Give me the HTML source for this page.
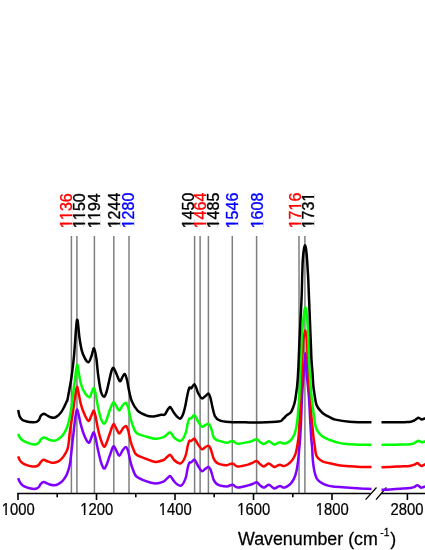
<!DOCTYPE html>
<html lang="en"><head><meta charset="utf-8"><title>Spectra</title>
<style>html,body{margin:0;padding:0;background:#fff}body{width:425px;height:550px;overflow:hidden}svg{display:block;will-change:transform}text{font-family:"Liberation Sans",sans-serif}</style></head><body>
<svg width="425" height="550" viewBox="0 0 425 550">
<rect width="425" height="550" fill="#fff"/>
<g stroke="#7f7f7f" stroke-width="1.5">
<line x1="71.4" y1="236" x2="71.4" y2="493" />
<line x1="76.9" y1="236" x2="76.9" y2="493" />
<line x1="94.4" y1="236" x2="94.4" y2="493" />
<line x1="113.8" y1="236" x2="113.8" y2="493" />
<line x1="129.0" y1="236" x2="129.0" y2="493" />
<line x1="194.6" y1="236" x2="194.6" y2="493" />
<line x1="200.1" y1="236" x2="200.1" y2="493" />
<line x1="208.4" y1="236" x2="208.4" y2="493" />
<line x1="232.3" y1="236" x2="232.3" y2="493" />
<line x1="256.6" y1="236" x2="256.6" y2="493" />
<line x1="299.0" y1="236" x2="299.0" y2="493" />
<line x1="304.9" y1="236" x2="304.9" y2="493" />
</g>
<g font-size="16.0" stroke-width="0.35">
<g transform="translate(71.7 228.3) rotate(-90)"><text x="0.00 8.35 17.25 26.15" fill="#ff0000" stroke="#ff0000">1136</text><g fill="#fff"><rect x="0.14" y="-1.97" width="3.65" height="2.67"/><rect x="5.66" y="-1.97" width="3.53" height="2.67"/><rect x="8.49" y="-1.97" width="3.65" height="2.67"/><rect x="14.01" y="-1.97" width="3.53" height="2.67"/></g></g>
<g transform="translate(85.2 228.3) rotate(-90)"><text x="0.00 8.35 17.25 26.15" fill="#000" stroke="#000">1150</text><g fill="#fff"><rect x="0.14" y="-1.97" width="3.65" height="2.67"/><rect x="5.66" y="-1.97" width="3.53" height="2.67"/><rect x="8.49" y="-1.97" width="3.65" height="2.67"/><rect x="14.01" y="-1.97" width="3.53" height="2.67"/></g></g>
<g transform="translate(99.8 228.3) rotate(-90)"><text x="0.00 8.35 17.25 26.15" fill="#000" stroke="#000">1194</text><g fill="#fff"><rect x="0.14" y="-1.97" width="3.65" height="2.67"/><rect x="5.66" y="-1.97" width="3.53" height="2.67"/><rect x="8.49" y="-1.97" width="3.65" height="2.67"/><rect x="14.01" y="-1.97" width="3.53" height="2.67"/></g></g>
<g transform="translate(119.6 228.3) rotate(-90)"><text x="0.00 8.90 17.80 26.70" fill="#000" stroke="#000">1244</text><g fill="#fff"><rect x="0.14" y="-1.97" width="3.65" height="2.67"/><rect x="5.66" y="-1.97" width="3.53" height="2.67"/></g></g>
<g transform="translate(133.7 228.3) rotate(-90)"><text x="0.00 8.90 17.80 26.70" fill="#0000ff" stroke="#0000ff">1280</text><g fill="#fff"><rect x="0.14" y="-1.97" width="3.65" height="2.67"/><rect x="5.66" y="-1.97" width="3.53" height="2.67"/></g></g>
<g transform="translate(193.5 228.3) rotate(-90)"><text x="0.00 8.90 17.80 26.70" fill="#000" stroke="#000">1450</text><g fill="#fff"><rect x="0.14" y="-1.97" width="3.65" height="2.67"/><rect x="5.66" y="-1.97" width="3.53" height="2.67"/></g></g>
<g transform="translate(205.7 228.3) rotate(-90)"><text x="0.00 8.90 17.80 26.70" fill="#ff0000" stroke="#ff0000">1464</text><g fill="#fff"><rect x="0.14" y="-1.97" width="3.65" height="2.67"/><rect x="5.66" y="-1.97" width="3.53" height="2.67"/></g></g>
<g transform="translate(219.3 228.3) rotate(-90)"><text x="0.00 8.90 17.80 26.70" fill="#000" stroke="#000">1485</text><g fill="#fff"><rect x="0.14" y="-1.97" width="3.65" height="2.67"/><rect x="5.66" y="-1.97" width="3.53" height="2.67"/></g></g>
<g transform="translate(237.7 228.3) rotate(-90)"><text x="0.00 8.90 17.80 26.70" fill="#0000ff" stroke="#0000ff">1546</text><g fill="#fff"><rect x="0.14" y="-1.97" width="3.65" height="2.67"/><rect x="5.66" y="-1.97" width="3.53" height="2.67"/></g></g>
<g transform="translate(262.5 228.3) rotate(-90)"><text x="0.00 8.90 17.80 26.70" fill="#0000ff" stroke="#0000ff">1608</text><g fill="#fff"><rect x="0.14" y="-1.97" width="3.65" height="2.67"/><rect x="5.66" y="-1.97" width="3.53" height="2.67"/></g></g>
<g transform="translate(300.6 228.3) rotate(-90)"><text x="0.00 8.90 17.80 26.70" fill="#ff0000" stroke="#ff0000">1716</text><g fill="#fff"><rect x="0.14" y="-1.97" width="3.65" height="2.67"/><rect x="5.66" y="-1.97" width="3.53" height="2.67"/><rect x="17.94" y="-1.97" width="3.65" height="2.67"/><rect x="23.46" y="-1.97" width="3.53" height="2.67"/></g></g>
<g transform="translate(313.7 228.3) rotate(-90)"><text x="0.00 8.90 17.80 26.70" fill="#000" stroke="#000">1731</text><g fill="#fff"><rect x="0.14" y="-1.97" width="3.65" height="2.67"/><rect x="5.66" y="-1.97" width="3.53" height="2.67"/><rect x="26.84" y="-1.97" width="3.65" height="2.67"/><rect x="32.36" y="-1.97" width="3.53" height="2.67"/></g></g>
</g>
<g stroke="#000" stroke-width="1.6" fill="none">
<path d="M17.2 493.5H370.5M381 493.5H425"/>
<path d="M18.0 493.5V500"/>
<path d="M96.5 493.5V500"/>
<path d="M175.0 493.5V500"/>
<path d="M253.5 493.5V500"/>
<path d="M332.0 493.5V500"/>
<path d="M57.2 493.5V497.3"/>
<path d="M135.8 493.5V497.3"/>
<path d="M214.2 493.5V497.3"/>
<path d="M292.8 493.5V497.3"/>
<path d="M407.4 493.5V500"/>
<path d="M365.6 499.6L376.5 487.5M376 499.6L386.4 487.5" stroke-width="1.3"/>
</g>
<g fill="none" stroke-width="2.5" stroke-linejoin="round" stroke-linecap="butt">
<path stroke="#8000ff" d="M18.2 478.2C18.4 478.8 18.9 480.5 19.6 481.7C20.3 482.9 21.3 484.4 22.5 485.3C23.7 486.2 25.1 486.8 26.7 487.4C28.3 488.0 30.8 488.6 32.4 488.8C34.0 489.0 35.5 488.9 36.6 488.5C37.7 488.1 38.4 487.5 39.1 486.7C39.8 485.9 40.0 484.6 40.8 483.8C41.6 483.0 42.6 482.1 43.7 482.0C44.8 481.9 46.0 482.9 47.2 483.4C48.4 483.9 49.5 484.5 50.7 484.8C51.9 485.1 53.1 485.4 54.3 485.3C55.5 485.2 56.6 484.9 57.8 484.3C59.0 483.8 60.2 482.9 61.3 482.0C62.3 481.1 63.1 480.2 64.1 478.9C65.0 477.6 66.0 476.4 67.0 474.0C68.0 471.6 69.1 468.2 69.8 464.8C70.5 461.4 70.8 456.8 71.2 453.5C71.6 450.2 71.9 447.6 72.2 445.0C72.5 442.4 72.5 441.8 73.0 437.6C73.5 433.4 74.4 424.6 75.0 420.0C75.6 415.4 76.2 410.8 76.8 409.8C77.4 408.8 77.9 411.8 78.5 414.0C79.1 416.2 79.6 419.8 80.5 423.2C81.4 426.6 82.6 431.2 83.9 434.5C85.2 437.8 87.4 442.1 88.6 442.7C89.8 443.3 90.4 439.7 91.2 438.0C92.0 436.3 92.9 432.4 93.6 432.3C94.3 432.2 94.8 434.6 95.5 437.5C96.2 440.4 97.1 445.9 98.0 450.0C98.9 454.1 99.9 458.7 100.9 461.8C101.9 464.9 103.0 468.0 103.9 468.5C104.8 469.0 105.5 467.2 106.5 465.0C107.5 462.8 108.8 458.1 110.0 455.0C111.2 451.9 112.3 447.1 113.4 446.4C114.5 445.7 115.5 449.4 116.5 451.0C117.5 452.6 118.3 455.9 119.3 455.8C120.3 455.7 121.4 452.0 122.5 450.5C123.6 449.0 124.9 446.8 125.9 447.0C126.9 447.2 127.5 449.4 128.3 452.0C129.1 454.6 129.8 459.3 130.6 462.4C131.4 465.5 132.3 468.1 133.3 470.5C134.3 472.9 134.4 474.7 136.5 476.5C138.6 478.3 142.8 480.0 145.9 481.2C149.0 482.4 152.4 483.4 155.3 483.5C158.2 483.6 161.6 482.4 163.5 481.6C165.4 480.8 165.9 479.4 167.0 478.5C168.1 477.6 169.1 476.1 169.9 476.0C170.7 475.9 171.3 477.3 172.0 478.2C172.7 479.1 173.2 480.1 174.1 481.2C175.0 482.3 176.4 483.8 177.5 484.6C178.6 485.4 179.6 486.1 180.6 485.8C181.6 485.5 182.6 484.6 183.5 483.0C184.4 481.4 185.4 479.1 186.1 476.5C186.8 473.9 187.2 469.8 187.8 467.5C188.4 465.2 188.8 463.6 189.4 462.7C190.0 461.8 190.5 462.9 191.3 462.3C192.1 461.8 193.5 459.4 194.3 459.4C195.1 459.4 195.6 461.3 196.3 462.5C197.0 463.7 197.5 465.1 198.4 466.5C199.3 467.9 200.7 470.8 201.9 471.2C203.1 471.6 204.4 469.3 205.5 468.6C206.6 467.9 207.7 466.7 208.5 466.9C209.3 467.1 209.9 468.3 210.5 469.6C211.1 470.9 211.6 472.8 212.1 474.5C212.6 476.2 213.0 478.3 213.7 479.9C214.4 481.4 215.5 482.9 216.5 483.8C217.5 484.7 217.9 484.9 219.6 485.4C221.3 485.8 224.6 486.6 226.7 486.5C228.8 486.4 230.9 484.7 232.4 484.7C233.9 484.7 234.5 486.1 235.5 486.6C236.5 487.1 236.5 487.7 238.6 487.5C240.7 487.3 245.6 486.0 248.0 485.4C250.4 484.8 251.5 484.3 253.0 483.8C254.5 483.3 255.6 482.1 256.8 482.3C258.0 482.6 258.9 484.4 260.0 485.3C261.1 486.2 262.5 487.4 263.5 487.6C264.5 487.8 265.1 486.9 266.0 486.4C266.9 485.9 267.9 484.7 268.9 484.8C269.9 484.9 271.1 486.4 272.0 487.0C272.9 487.6 273.7 488.4 274.6 488.4C275.5 488.4 276.6 487.4 277.5 487.0C278.4 486.6 279.2 486.0 280.0 486.0C280.8 486.0 281.3 486.7 282.0 487.0C282.7 487.3 283.3 487.8 284.2 487.6C285.1 487.5 286.4 486.8 287.5 486.1C288.6 485.4 289.8 484.6 290.9 483.4C292.0 482.1 293.1 480.5 294.0 478.6C294.9 476.7 295.6 474.8 296.3 471.8C297.0 468.9 297.6 465.0 298.1 460.9C298.6 456.8 299.0 450.9 299.4 447.0C299.8 443.1 299.9 442.3 300.2 437.6C300.5 432.9 300.9 425.1 301.2 418.8C301.5 412.5 301.6 405.6 301.9 400.0C302.2 394.4 302.5 389.2 302.8 385.0C303.1 380.8 303.4 377.8 303.6 375.0C303.8 372.2 303.9 370.5 304.1 368.0C304.3 365.5 304.4 362.5 304.6 360.0C304.8 357.5 305.1 352.9 305.4 352.9C305.6 352.9 305.9 357.5 306.1 360.0C306.3 362.5 306.4 365.5 306.5 368.0C306.6 370.5 306.6 372.2 306.8 375.0C307.0 377.8 307.4 380.8 307.8 385.0C308.2 389.2 308.7 394.4 309.1 400.0C309.5 405.6 309.8 412.5 310.1 418.8C310.5 425.1 310.9 432.9 311.2 437.6C311.5 442.3 311.8 443.1 312.1 447.0C312.4 450.9 312.5 456.8 312.9 460.9C313.3 465.0 313.9 468.9 314.5 471.8C315.1 474.8 315.9 476.9 316.8 478.6C317.8 480.3 318.7 481.0 320.2 482.0C321.7 483.0 323.5 484.0 325.6 484.8C327.7 485.6 329.3 486.1 332.9 486.6C336.5 487.1 342.6 487.3 347.1 487.6C351.6 487.9 355.9 488.4 360.0 488.6C364.1 488.8 369.6 488.9 371.5 489.0"/>
<path stroke="#8000ff" d="M381.5 489.8C382.9 489.7 386.9 489.6 390.0 489.4C393.1 489.2 396.8 489.0 400.0 488.8C403.2 488.6 407.5 488.3 409.5 488.1C411.5 487.9 411.2 487.8 412.0 487.6C412.8 487.4 413.8 487.1 414.5 486.8C415.2 486.5 415.5 486.1 416.0 485.8C416.5 485.5 416.9 485.1 417.4 485.2C417.9 485.3 418.5 485.9 419.2 486.3C419.9 486.7 420.7 487.6 421.3 487.7C421.9 487.8 422.3 487.4 423.0 487.2C423.7 487.0 425.1 486.5 425.5 486.4"/>
<path stroke="#ff0000" d="M18.2 456.3C18.4 456.9 18.9 458.7 19.6 459.8C20.3 460.9 21.3 462.2 22.5 463.1C23.7 464.0 25.1 464.6 26.7 465.2C28.3 465.8 30.8 466.3 32.4 466.5C34.0 466.7 35.5 466.5 36.6 466.2C37.7 465.9 38.4 465.2 39.1 464.5C39.8 463.8 40.0 462.7 40.8 461.9C41.6 461.1 42.6 459.9 43.7 459.8C44.8 459.7 46.0 460.8 47.2 461.2C48.4 461.6 49.5 462.1 50.7 462.4C51.9 462.6 53.1 462.8 54.3 462.7C55.5 462.6 56.6 462.3 57.8 461.7C59.0 461.1 60.2 460.1 61.3 459.1C62.3 458.1 63.1 457.1 64.1 455.6C65.0 454.2 66.3 452.2 67.0 450.4C67.7 448.6 67.9 448.3 68.4 445.0C68.9 441.7 69.2 436.1 70.0 430.6C70.8 425.1 72.2 417.4 73.0 411.8C73.8 406.2 74.3 401.2 75.0 397.0C75.7 392.8 76.4 387.3 77.0 386.8C77.6 386.3 78.2 391.4 78.8 394.0C79.4 396.6 79.7 399.5 80.5 402.7C81.3 405.9 82.6 410.0 83.9 413.0C85.2 416.0 87.2 420.4 88.4 420.9C89.6 421.4 90.3 417.7 91.2 416.0C92.1 414.3 92.9 410.6 93.6 410.6C94.3 410.6 94.8 412.9 95.5 416.0C96.2 419.1 97.1 425.0 98.0 429.0C98.9 433.0 99.9 437.1 100.9 440.0C101.9 442.9 103.1 446.1 104.0 446.6C104.9 447.1 105.5 445.3 106.5 443.0C107.5 440.7 108.8 436.1 110.0 433.0C111.2 429.9 112.3 424.9 113.4 424.2C114.5 423.5 115.5 427.4 116.5 429.0C117.5 430.6 118.3 433.6 119.3 433.6C120.3 433.6 121.4 430.3 122.5 429.0C123.6 427.7 124.9 425.6 125.9 425.9C126.9 426.2 127.5 428.4 128.3 431.0C129.1 433.6 129.8 438.2 130.6 441.2C131.4 444.2 132.3 446.7 133.3 449.0C134.3 451.3 134.4 453.2 136.5 454.8C138.6 456.4 142.8 457.6 145.9 458.8C149.0 460.0 152.4 461.7 155.3 461.9C158.2 462.1 161.6 460.8 163.5 460.0C165.4 459.2 165.9 457.9 167.0 457.0C168.1 456.1 169.1 454.8 169.9 454.8C170.7 454.8 171.3 456.1 172.0 457.0C172.7 457.9 173.2 459.1 174.1 460.0C175.0 460.9 176.4 462.0 177.5 462.6C178.6 463.2 179.6 463.8 180.6 463.4C181.6 463.0 182.6 462.1 183.5 460.5C184.4 458.9 185.4 456.5 186.1 454.0C186.8 451.5 187.2 447.7 187.8 445.5C188.4 443.3 188.8 441.6 189.4 440.9C190.0 440.1 190.5 441.4 191.3 441.0C192.1 440.6 193.5 438.5 194.3 438.6C195.1 438.7 195.6 440.4 196.3 441.5C197.0 442.6 197.5 443.7 198.4 445.0C199.3 446.3 200.7 448.9 201.9 449.2C203.1 449.5 204.4 447.6 205.5 447.0C206.6 446.4 207.7 445.4 208.5 445.7C209.3 445.9 209.9 447.2 210.5 448.5C211.1 449.8 211.6 451.8 212.1 453.5C212.6 455.2 213.0 457.2 213.7 458.7C214.4 460.2 215.5 461.6 216.5 462.5C217.5 463.4 217.9 463.6 219.6 464.1C221.3 464.6 224.6 465.4 226.7 465.3C228.8 465.2 230.9 463.4 232.4 463.4C233.9 463.4 234.5 465.0 235.5 465.5C236.5 466.0 236.5 466.6 238.6 466.5C240.7 466.4 245.6 465.2 248.0 464.6C250.4 464.0 251.5 463.2 253.0 462.6C254.5 462.0 255.6 460.8 256.8 461.0C258.0 461.2 258.9 463.2 260.0 464.1C261.1 465.0 262.5 466.3 263.5 466.5C264.5 466.7 265.1 465.7 266.0 465.2C266.9 464.7 267.9 463.5 268.9 463.6C269.9 463.7 271.1 465.1 272.0 465.6C272.9 466.2 273.7 466.9 274.6 466.9C275.5 466.9 276.6 466.0 277.5 465.6C278.4 465.2 279.2 464.8 280.0 464.8C280.8 464.8 281.2 465.4 282.0 465.6C282.8 465.8 283.6 466.2 284.7 465.9C285.8 465.6 287.5 464.7 288.8 463.6C290.1 462.6 291.5 461.2 292.6 459.6C293.7 458.0 294.6 456.2 295.4 454.1C296.1 452.0 296.6 449.8 297.1 447.0C297.6 444.2 298.1 440.7 298.5 437.6C298.9 434.5 299.0 431.3 299.2 428.2C299.4 425.1 299.6 423.5 299.9 418.8C300.2 414.1 300.6 405.6 300.8 400.0C301.0 394.4 301.2 389.2 301.3 385.0C301.4 380.8 301.5 379.2 301.6 375.0C301.8 370.8 302.0 364.0 302.2 360.0C302.4 356.0 302.6 354.3 302.8 351.0C303.0 347.7 303.1 342.8 303.4 340.0C303.6 337.2 304.0 335.6 304.3 334.0C304.6 332.4 304.9 330.6 305.2 330.6C305.6 330.6 305.9 332.4 306.2 334.0C306.5 335.6 306.9 337.2 307.1 340.0C307.2 342.8 307.3 347.7 307.4 351.0C307.5 354.3 307.5 356.0 307.7 360.0C307.9 364.0 308.4 370.8 308.6 375.0C308.9 379.2 309.1 380.8 309.4 385.0C309.7 389.2 310.0 394.4 310.4 400.0C310.8 405.6 311.2 414.1 311.6 418.8C312.0 423.5 312.3 425.1 312.6 428.2C312.9 431.3 313.1 434.5 313.5 437.6C313.9 440.7 314.5 444.2 314.9 447.0C315.3 449.8 315.4 452.2 315.9 454.1C316.4 456.0 316.9 456.9 318.1 458.2C319.3 459.4 320.6 460.7 322.9 461.6C325.2 462.5 328.8 463.1 332.0 463.8C335.2 464.5 337.7 465.3 342.4 465.8C347.1 466.3 355.1 466.7 360.0 466.9C364.9 467.1 369.6 467.0 371.5 467.0"/>
<path stroke="#ff0000" d="M381.5 467.3C382.9 467.2 386.9 467.1 390.0 467.0C393.1 466.9 396.8 466.6 400.0 466.4C403.2 466.2 407.5 466.1 409.5 465.9C411.5 465.7 411.2 465.6 412.0 465.4C412.8 465.2 413.8 465.0 414.5 464.7C415.2 464.4 415.5 464.0 416.0 463.7C416.5 463.4 416.9 463.0 417.4 463.1C417.9 463.2 418.5 463.9 419.2 464.4C419.9 464.9 420.7 465.9 421.3 466.0C421.9 466.1 422.3 465.6 423.0 465.3C423.7 465.0 425.1 464.3 425.5 464.1"/>
<path stroke="#00ff00" d="M18.2 433.9C18.4 434.4 18.9 435.9 19.6 437.0C20.3 438.1 21.3 439.4 22.5 440.3C23.7 441.2 25.1 441.8 26.7 442.4C28.3 443.0 30.8 443.9 32.4 444.2C34.0 444.5 35.5 444.4 36.6 444.1C37.7 443.8 38.4 443.2 39.1 442.4C39.8 441.6 40.0 440.3 40.8 439.5C41.6 438.7 42.6 437.5 43.7 437.4C44.8 437.3 46.0 438.3 47.2 438.8C48.4 439.3 49.5 440.0 50.7 440.3C51.9 440.6 53.1 440.8 54.3 440.7C55.5 440.6 56.6 440.2 57.8 439.5C59.0 438.8 60.2 437.8 61.3 436.7C62.3 435.6 63.1 434.7 64.1 433.2C65.0 431.7 66.0 430.2 67.0 427.5C68.0 424.8 69.0 420.8 69.8 416.9C70.6 413.0 71.5 407.0 71.9 404.2C72.3 401.4 72.0 403.5 72.4 400.0C72.8 396.5 73.7 388.8 74.5 383.0C75.3 377.2 76.3 366.7 77.0 365.0C77.7 363.3 78.2 370.1 78.8 373.0C79.4 375.9 79.7 379.2 80.5 382.3C81.3 385.4 82.4 388.9 83.9 391.4C85.4 393.9 88.0 396.9 89.3 397.2C90.6 397.5 90.8 394.5 91.5 393.0C92.2 391.5 92.9 388.0 93.6 388.0C94.3 388.0 94.8 389.8 95.5 393.0C96.2 396.2 97.1 402.7 98.0 407.0C98.9 411.3 99.9 415.8 100.9 418.6C101.9 421.4 103.2 423.6 104.1 423.8C105.0 424.0 105.5 422.4 106.5 420.0C107.5 417.6 108.8 412.4 110.0 409.5C111.2 406.6 112.3 402.9 113.4 402.4C114.5 401.9 115.5 405.1 116.5 406.5C117.5 407.9 118.3 410.8 119.3 410.6C120.3 410.4 121.4 406.8 122.5 405.5C123.6 404.2 124.9 402.4 125.9 402.8C126.9 403.2 127.5 405.3 128.3 408.0C129.1 410.7 129.8 415.6 130.6 418.8C131.4 422.0 132.3 424.6 133.3 427.0C134.3 429.4 134.4 431.3 136.5 432.9C138.6 434.5 142.8 435.5 145.9 436.5C149.0 437.5 152.4 438.7 155.3 438.8C158.2 438.9 161.6 437.9 163.5 437.2C165.4 436.5 165.9 435.3 167.0 434.5C168.1 433.7 169.1 432.2 169.9 432.2C170.7 432.2 171.3 433.6 172.0 434.5C172.7 435.4 173.2 436.7 174.1 437.6C175.0 438.5 176.4 439.4 177.5 440.0C178.6 440.6 179.6 441.2 180.6 440.9C181.6 440.6 182.6 439.6 183.5 438.0C184.4 436.4 185.4 434.0 186.1 431.5C186.8 429.0 187.2 425.2 187.8 423.0C188.4 420.8 188.8 419.3 189.4 418.5C190.0 417.7 190.5 418.9 191.3 418.3C192.1 417.7 193.5 414.9 194.3 414.9C195.1 414.8 195.6 416.8 196.3 418.0C197.0 419.2 197.5 420.6 198.4 422.0C199.3 423.4 200.7 426.2 201.9 426.7C203.1 427.2 204.4 425.5 205.5 425.0C206.6 424.5 207.7 423.6 208.5 423.9C209.3 424.1 209.9 425.2 210.5 426.5C211.1 427.8 211.6 429.7 212.1 431.5C212.6 433.3 213.0 436.0 213.7 437.4C214.4 438.8 215.5 439.4 216.5 440.0C217.5 440.6 217.9 440.4 219.6 440.9C221.3 441.4 224.6 442.8 226.7 442.8C228.8 442.8 230.9 440.9 232.4 440.9C233.9 440.9 234.5 442.3 235.5 442.8C236.5 443.3 236.5 443.9 238.6 443.8C240.7 443.7 245.6 442.6 248.0 442.1C250.4 441.6 251.5 441.1 253.0 440.6C254.5 440.1 255.6 439.1 256.8 439.3C258.0 439.5 258.9 441.2 260.0 442.0C261.1 442.8 262.5 444.0 263.5 444.1C264.5 444.2 265.1 443.3 266.0 442.8C266.9 442.3 267.9 441.2 268.9 441.3C269.9 441.4 271.1 442.6 272.0 443.2C272.9 443.8 273.7 444.6 274.6 444.6C275.5 444.6 276.6 443.6 277.5 443.2C278.4 442.8 279.2 442.2 280.0 442.2C280.8 442.2 281.2 442.8 282.0 443.0C282.8 443.2 283.6 443.7 284.5 443.6C285.4 443.5 286.5 443.1 287.5 442.6C288.5 442.1 289.5 441.5 290.5 440.5C291.5 439.5 292.5 438.1 293.3 436.7C294.1 435.3 294.7 433.7 295.2 432.0C295.7 430.3 296.0 428.6 296.4 426.4C296.8 424.2 297.2 421.6 297.5 418.8C297.8 416.0 298.0 412.5 298.3 409.4C298.6 406.3 298.9 404.1 299.1 400.0C299.4 395.9 299.6 389.2 299.8 385.0C300.0 380.8 299.9 379.2 300.1 375.0C300.3 370.8 300.7 365.8 300.9 360.0C301.2 354.2 301.2 346.7 301.6 340.0C302.0 333.3 302.9 324.8 303.3 320.0C303.8 315.2 304.0 313.1 304.3 311.0C304.6 308.9 305.0 307.3 305.3 307.3C305.6 307.3 306.0 308.9 306.3 311.0C306.6 313.1 307.0 315.2 307.3 320.0C307.6 324.8 308.1 333.3 308.4 340.0C308.6 346.7 308.7 354.2 309.0 360.0C309.3 365.8 309.6 370.8 309.9 375.0C310.1 379.2 310.2 380.8 310.5 385.0C310.8 389.2 311.5 395.9 311.9 400.0C312.3 404.1 312.7 406.3 313.1 409.4C313.5 412.5 313.9 416.0 314.3 418.8C314.7 421.6 315.0 424.2 315.6 426.4C316.2 428.6 317.0 430.3 318.2 432.0C319.4 433.7 320.9 435.4 322.9 436.7C324.9 438.0 327.5 439.0 330.0 440.0C332.5 441.0 335.1 441.9 338.0 442.6C340.9 443.3 343.4 443.8 347.1 444.1C350.8 444.5 355.9 444.6 360.0 444.7C364.1 444.8 369.6 444.8 371.5 444.8"/>
<path stroke="#00ff00" d="M381.5 444.8C383.8 444.8 391.1 444.8 395.0 444.7C398.9 444.6 402.6 444.6 405.0 444.5C407.4 444.4 408.3 444.4 409.5 444.3C410.7 444.2 411.2 444.0 412.0 443.8C412.8 443.6 413.8 443.4 414.5 443.0C415.2 442.6 415.8 442.0 416.5 441.6C417.2 441.2 417.9 440.7 418.5 440.7C419.1 440.7 419.4 441.1 420.0 441.4C420.6 441.7 421.2 442.2 421.8 442.3C422.4 442.4 422.9 442.1 423.5 441.9C424.1 441.7 425.2 441.3 425.5 441.2"/>
<path stroke="#000000" d="M18.2 409.9C18.4 410.9 18.9 414.5 19.6 416.2C20.3 417.9 21.3 419.1 22.5 420.0C23.7 420.9 25.1 421.1 26.7 421.5C28.3 421.9 30.8 422.1 32.4 422.2C34.0 422.3 35.5 422.3 36.6 421.9C37.7 421.5 38.4 420.8 39.1 419.8C39.8 418.8 40.0 416.8 40.8 415.8C41.6 414.8 42.6 413.9 43.7 413.8C44.8 413.8 46.0 414.9 47.2 415.5C48.4 416.1 49.5 416.8 50.7 417.2C51.9 417.6 53.1 417.9 54.3 417.7C55.5 417.5 56.6 416.8 57.8 415.8C59.0 414.9 60.2 413.4 61.3 412.0C62.3 410.6 63.1 409.0 64.1 407.1C65.0 405.2 66.4 402.1 67.0 400.7C67.6 399.3 66.9 402.8 67.6 399.0C68.3 395.2 70.3 385.0 71.4 377.7C72.5 370.4 73.2 364.6 74.1 355.0C75.0 345.4 76.1 322.8 77.0 320.0C77.9 317.2 78.7 332.9 79.5 338.0C80.3 343.1 80.9 347.2 81.8 350.6C82.7 354.0 83.9 356.6 85.0 358.5C86.1 360.4 87.5 362.6 88.6 362.2C89.7 361.8 90.6 358.3 91.5 356.0C92.4 353.7 93.2 347.9 94.0 348.2C94.8 348.5 95.6 353.5 96.3 358.0C97.0 362.5 97.4 369.7 98.2 375.3C99.0 380.9 99.9 387.8 100.9 391.4C101.9 395.0 103.3 396.7 104.2 396.8C105.1 396.9 105.7 394.4 106.5 392.0C107.3 389.6 108.0 385.9 108.8 382.4C109.6 378.9 110.7 373.4 111.5 371.0C112.3 368.6 112.7 367.3 113.5 367.8C114.3 368.3 115.4 371.8 116.5 374.0C117.6 376.2 118.9 380.7 119.9 381.2C120.9 381.7 121.7 378.2 122.5 377.0C123.3 375.8 124.0 373.6 124.8 374.1C125.5 374.6 126.3 377.4 127.0 380.0C127.7 382.6 128.0 385.9 128.8 389.4C129.6 392.9 130.3 397.7 131.8 401.2C133.3 404.7 135.2 408.2 137.6 410.6C139.9 413.0 143.3 414.3 145.9 415.3C148.5 416.3 150.4 416.6 152.9 416.5C155.4 416.4 159.2 415.1 161.2 414.8C163.2 414.5 163.6 415.4 164.7 414.6C165.8 413.8 166.6 411.3 167.5 410.0C168.4 408.7 169.2 407.1 169.9 407.0C170.7 406.9 171.3 408.5 172.0 409.5C172.7 410.5 173.2 411.8 174.1 413.0C175.0 414.2 176.4 416.1 177.5 417.0C178.6 417.9 179.6 419.2 180.6 418.5C181.6 417.8 182.7 415.2 183.5 413.0C184.3 410.8 184.7 408.7 185.4 405.5C186.1 402.3 186.9 397.0 187.6 394.0C188.3 391.0 188.8 388.7 189.4 387.7C190.0 386.7 190.5 388.8 191.3 388.2C192.1 387.6 193.5 384.2 194.3 384.2C195.1 384.2 195.6 386.4 196.3 388.0C197.0 389.6 197.5 391.9 198.4 393.6C199.3 395.3 200.7 398.0 201.9 398.4C203.1 398.8 204.4 396.8 205.5 396.0C206.6 395.2 207.7 393.3 208.5 393.6C209.3 393.9 209.9 396.0 210.5 398.0C211.1 400.0 211.4 402.5 212.1 405.5C212.8 408.5 213.7 413.6 214.9 416.1C216.2 418.6 217.2 419.4 219.6 420.4C222.0 421.4 224.9 421.7 229.1 422.0C233.3 422.3 239.8 422.2 245.0 422.3C250.2 422.4 254.4 422.6 260.0 422.5C265.6 422.4 274.9 422.2 278.8 421.6C282.7 421.0 281.8 419.9 283.2 418.8C284.6 417.7 285.9 415.9 287.0 415.0C288.1 414.1 289.2 414.0 290.0 413.2C290.8 412.4 291.3 411.7 291.9 410.4C292.5 409.1 293.2 407.3 293.8 405.6C294.4 403.9 294.8 402.1 295.2 400.0C295.6 397.9 295.9 395.4 296.2 393.0C296.5 390.6 296.9 388.8 297.2 385.4C297.5 382.0 297.9 376.9 298.1 372.7C298.4 368.5 298.5 365.4 298.7 360.0C298.9 354.6 299.2 346.7 299.5 340.0C299.8 333.3 300.2 326.7 300.5 320.0C300.8 313.3 301.2 306.7 301.5 300.0C301.8 293.3 302.0 285.0 302.1 280.0C302.2 275.0 302.3 273.3 302.4 270.0C302.5 266.7 302.6 262.7 302.8 260.0C303.0 257.3 303.1 255.8 303.3 254.0C303.5 252.2 303.7 250.7 303.9 249.5C304.1 248.3 304.2 247.5 304.4 246.8C304.6 246.1 304.8 245.3 305.0 245.3C305.2 245.3 305.4 246.1 305.6 246.8C305.8 247.5 305.9 248.3 306.1 249.5C306.3 250.7 306.4 252.2 306.6 254.0C306.8 255.8 306.9 257.3 307.1 260.0C307.3 262.7 307.5 266.7 307.7 270.0C307.9 273.3 308.1 275.0 308.3 280.0C308.5 285.0 308.8 293.3 309.1 300.0C309.4 306.7 309.6 313.3 309.9 320.0C310.2 326.7 310.4 333.3 310.7 340.0C311.0 346.7 311.2 354.6 311.5 360.0C311.8 365.4 312.2 368.5 312.5 372.7C312.8 376.9 313.0 382.0 313.3 385.4C313.6 388.8 314.0 390.6 314.3 393.0C314.6 395.4 315.0 397.9 315.4 400.0C315.8 402.1 316.0 403.9 316.8 405.6C317.6 407.3 318.9 409.0 320.1 410.4C321.3 411.8 322.2 412.9 323.9 414.1C325.5 415.3 328.1 416.5 330.0 417.4C331.9 418.3 332.1 418.9 335.3 419.6C338.5 420.3 345.3 421.4 349.4 421.8C353.5 422.2 356.3 422.2 360.0 422.3C363.7 422.4 369.6 422.3 371.5 422.3"/>
<path stroke="#000000" d="M381.5 422.3C383.8 422.3 391.1 422.3 395.0 422.3C398.9 422.3 402.6 422.2 405.0 422.2C407.4 422.1 408.3 422.1 409.5 422.0C410.7 421.9 411.2 421.7 412.0 421.4C412.8 421.1 413.8 420.8 414.5 420.4C415.2 420.0 415.8 419.2 416.5 418.8C417.2 418.4 417.9 417.9 418.5 417.8C419.1 417.8 419.4 418.2 420.0 418.5C420.6 418.8 421.2 419.3 421.8 419.4C422.4 419.5 422.9 419.2 423.5 419.0C424.1 418.8 425.2 418.4 425.5 418.3"/>
</g>
<g font-size="14.8" fill="#000" stroke="#000" stroke-width="0.22">
<g transform="translate(18.2 514.8) scale(1 1.08)"><text x="-16.46 -8.23 0.00 8.23">1000</text><g fill="#fff" stroke="none"><rect x="-16.34" y="-1.82" width="3.44" height="2.52"/><rect x="-11.27" y="-1.82" width="3.33" height="2.52"/></g></g>
<g transform="translate(96.7 514.8) scale(1 1.08)"><text x="-16.46 -8.23 0.00 8.23">1200</text><g fill="#fff" stroke="none"><rect x="-16.34" y="-1.82" width="3.44" height="2.52"/><rect x="-11.27" y="-1.82" width="3.33" height="2.52"/></g></g>
<g transform="translate(175.2 514.8) scale(1 1.08)"><text x="-16.46 -8.23 0.00 8.23">1400</text><g fill="#fff" stroke="none"><rect x="-16.34" y="-1.82" width="3.44" height="2.52"/><rect x="-11.27" y="-1.82" width="3.33" height="2.52"/></g></g>
<g transform="translate(253.7 514.8) scale(1 1.08)"><text x="-16.46 -8.23 0.00 8.23">1600</text><g fill="#fff" stroke="none"><rect x="-16.34" y="-1.82" width="3.44" height="2.52"/><rect x="-11.27" y="-1.82" width="3.33" height="2.52"/></g></g>
<g transform="translate(332.2 514.8) scale(1 1.08)"><text x="-16.46 -8.23 0.00 8.23">1800</text><g fill="#fff" stroke="none"><rect x="-16.34" y="-1.82" width="3.44" height="2.52"/><rect x="-11.27" y="-1.82" width="3.33" height="2.52"/></g></g>
<g transform="translate(407.0 514.8) scale(1 1.08)"><text x="-16.46 -8.23 0.00 8.23">2800</text><g fill="#fff" stroke="none"></g></g>
</g>
<text transform="translate(238 544.7) scale(1 1.05)" font-size="17.8" fill="#000" stroke="#000" stroke-width="0.25">Wavenumber (cm<tspan font-size="10.2" dy="-8" dx="2.5">-1</tspan><tspan dy="8" dx="1">)</tspan></text>
</svg></body></html>
